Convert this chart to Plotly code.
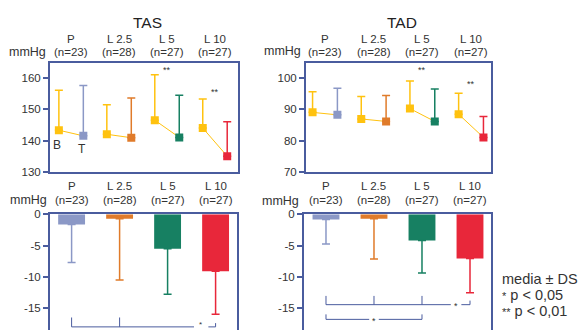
import plotly.graph_objects as go

W, H = 585, 336

# ---------------- data ----------------
categories = ["P", "L 2.5", "L 5", "L 10"]
n_labels = ["(n=23)", "(n=28)", "(n=27)", "(n=27)"]

tas_base_mean = [143.3, 142.0, 146.5, 144.0]
tas_base_sd = [12.8, 9.4, 14.5, 9.3]
tas_treat_mean = [141.5, 140.9, 141.0, 135.0]
tas_treat_sd = [16.1, 12.7, 13.5, 11.0]

tad_base_mean = [89.0, 86.9, 90.2, 88.4]
tad_base_sd = [6.6, 7.2, 8.8, 6.7]
tad_treat_mean = [88.2, 86.1, 86.1, 81.0]
tad_treat_sd = [8.5, 8.3, 10.4, 6.7]

tas_change_mean = [-1.65, -0.7, -5.5, -9.1]
tas_change_sd = [6.05, 9.8, 7.3, 6.9]
tad_change_mean = [-0.85, -0.7, -4.2, -7.05]
tad_change_sd = [3.9, 6.45, 5.2, 5.5]

top_sig = ["", "", "**", "**"]
tas_sig_y = [None, None, 162.4, 155.4]
tad_sig_y = [None, None, 102.4, 98.0]
y_ticks_tas = [130, 140, 150, 160]
y_ticks_tad = [70, 80, 90, 100]
y_ticks_change = [0, -5, -10, -15]

# ---------------- styles ----------------
YELLOW = "#FFC20F"
group_colors = ["#8B98C6", "#E07B2A", "#178062", "#E8273A"]
FRAME = "#4a5c9e"
TXT = "#333333"
FONT = "Liberation Sans, Arial, sans-serif"

def px_x(p):
    return p / W

def px_y(p):
    return 1 - p / H

fig = go.Figure()

OFF = 0.255

def top_panel(xa, ya, bmean, bsd, tmean, tsd):
    xs = list(range(len(categories)))
    lx, ly = [], []
    for i in xs:
        lx += [i - OFF, i + OFF, None]
        ly += [bmean[i], tmean[i], None]
    fig.add_trace(go.Scatter(x=lx, y=ly, mode="lines", line=dict(color=YELLOW, width=1),
                             xaxis=xa, yaxis=ya, hoverinfo="skip", showlegend=False))
    fig.add_trace(go.Scatter(
        x=[i - OFF for i in xs], y=bmean, mode="markers",
        marker=dict(symbol="square", size=8, color=YELLOW),
        error_y=dict(type="data", symmetric=False, array=bsd, arrayminus=[0] * 4,
                     color=YELLOW, thickness=1.5, width=4),
        xaxis=xa, yaxis=ya, showlegend=False))
    for i in xs:
        fig.add_trace(go.Scatter(
            x=[i + OFF], y=[tmean[i]], mode="markers",
            marker=dict(symbol="square", size=8, color=group_colors[i]),
            error_y=dict(type="data", symmetric=False, array=[tsd[i]], arrayminus=[0],
                         color=group_colors[i], thickness=1.5, width=4),
            xaxis=xa, yaxis=ya, showlegend=False))

def bottom_panel(xa, ya, mean, sd):
    for i in range(len(categories)):
        fig.add_trace(go.Bar(
            x=[i], y=[mean[i]], width=0.56,
            marker=dict(color=group_colors[i], line=dict(width=0)),
            error_y=dict(type="data", symmetric=False, array=[0], arrayminus=[sd[i]],
                         color=group_colors[i], thickness=1.5, width=4),
            xaxis=xa, yaxis=ya, showlegend=False))

top_panel("x", "y", tas_base_mean, tas_base_sd, tas_treat_mean, tas_treat_sd)
top_panel("x2", "y2", tad_base_mean, tad_base_sd, tad_treat_mean, tad_treat_sd)
bottom_panel("x3", "y3", tas_change_mean, tas_change_sd)
bottom_panel("x4", "y4", tad_change_mean, tad_change_sd)

def xax(dom, rng, anchor, mirror=True, side="bottom"):
    return dict(domain=[px_x(dom[0]), px_x(dom[1])], range=rng, showline=True,
                mirror=mirror, side=side, showticklabels=False, ticks="", anchor=anchor,
                showgrid=False, zeroline=False, linecolor=FRAME, linewidth=2, fixedrange=True)

def yax(dom, rng, ticks, anchor):
    return dict(domain=[px_y(dom[1]), px_y(dom[0])], range=rng, showline=True, mirror=True,
                showgrid=False, zeroline=False, linecolor=FRAME, linewidth=2,
                tickfont=dict(family=FONT, size=11.5, color=TXT),
                ticks="outside", ticklen=5, tickwidth=2, tickcolor=FRAME,
                tickvals=ticks, ticktext=[str(t) for t in ticks], anchor=anchor,
                fixedrange=True)

TAS_X = (50, 238)
TAD_X = (306, 491)
TOP_Y = (59, 172)
BOT_Y = (216, 336)
TASB_X = (50, 237)
TADB_X = (304, 491)

fig.update_layout(
    width=W, height=H, margin=dict(l=0, r=0, t=0, b=0),
    paper_bgcolor="white", plot_bgcolor="rgba(0,0,0,0)",
    font=dict(family=FONT, color=TXT), barmode="overlay",
    xaxis=xax(TAS_X, [-0.44, 3.48], "y"),
    yaxis=yax(TOP_Y, [130, 164.8], y_ticks_tas, "x"),
    xaxis2=xax(TAD_X, [-0.39, 3.41], "y2"),
    yaxis2=yax(TOP_Y, [70, 104.8], y_ticks_tad, "x2"),
    xaxis3=xax(TASB_X, [-0.45, 3.446], "y3", mirror=False, side="top"),
    yaxis3=yax(BOT_Y, [-18.5, 0], y_ticks_change, "x3"),
    xaxis4=xax(TADB_X, [-0.458, 3.4375], "y4", mirror=False, side="top"),
    yaxis4=yax(BOT_Y, [-18.5, 0], y_ticks_change, "x4"),
)

ann = []
def text(x, y, s, size=11.5, xref="paper", yref="paper", xanchor="center", color=TXT):
    ann.append(dict(x=x, y=y, text=s, xref=xref, yref=yref, showarrow=False,
                    xanchor=xanchor, yanchor="middle",
                    font=dict(family=FONT, size=size, color=color)))

# titles
text(px_x(147), px_y(17), "TAS", size=15.5, color="#222222")
text(px_x(402), px_y(17), "TAD", size=15.5, color="#222222")

# category headers
for xr, ytop in (("x", 34), ("x2", 34), ("x3", 187), ("x4", 187)):
    for i, c in enumerate(categories):
        text(i, px_y(ytop), c, xref=xr)
        text(i, px_y(ytop + 14), n_labels[i], xref=xr)

# unit labels
text(px_x(27), px_y(48), "mmHg", size=12.5)
text(px_x(282), px_y(47), "mmHg", size=12.5)
text(px_x(28), px_y(201), "mmHg", size=12.5)
text(px_x(280), px_y(202), "mmHg", size=12.5)

# B / T labels
text(-0.3, 138.6, "B", size=12, xref="x", yref="y")
text(0.22, 137.3, "T", size=12, xref="x", yref="y")

# significance stars on top panels
for i, s in enumerate(top_sig):
    if s:
        text(i, tas_sig_y[i], s, size=9, xref="x", yref="y")
        text(i, tad_sig_y[i], s, size=9, xref="x2", yref="y2")

# legend text
STAR = '<span style="font-size:11px">{}</span>'
text(px_x(500), px_y(283), "media ± DS", size=14.5, xanchor="left")
text(px_x(500), px_y(299.5), STAR.format("*") + " p < 0,05", size=14.5, xanchor="left")
text(px_x(500), px_y(316), STAR.format("**") + " p < 0,01", size=14.5, xanchor="left")

# brackets on bottom panels
shapes = []
def seg(xr, yr, x0, y0, x1, y1):
    shapes.append(dict(type="line", xref=xr, yref=yr, x0=x0, y0=y0, x1=x1, y1=y1,
                       line=dict(color=FRAME, width=1)))

# TAS: P, L2.5 vs L10
yb = -18.0
seg("x3", "y3", 0, yb, 2.55, yb)
seg("x3", "y3", 2.85, yb, 3, yb)
for xi in (0, 1):
    seg("x3", "y3", xi, yb, xi, -16.5)
seg("x3", "y3", 3, yb, 3, -17.4)
text(2.69, yb + 0.45, "*", size=8, xref="x3", yref="y3")

# TAD: P, L2.5, L5 vs L10
yb1 = -14.45
seg("x4", "y4", 0, yb1, 2.6, yb1)
seg("x4", "y4", 2.82, yb1, 3, yb1)
for xi in (0, 1, 2):
    seg("x4", "y4", xi, yb1, xi, -13.05)
seg("x4", "y4", 3, yb1, 3, -13.8)
text(2.7, yb1 - 0.25, "*", size=9, xref="x4", yref="y4")
# TAD: P vs L5
yb2 = -16.8
seg("x4", "y4", 0, yb2, 0.9, yb2)
seg("x4", "y4", 1.1, yb2, 2, yb2)
seg("x4", "y4", 0, yb2, 0, -16.0)
seg("x4", "y4", 2, yb2, 2, -16.0)
text(1.0, yb2 - 0.25, "*", size=9, xref="x4", yref="y4")

fig.update_layout(annotations=ann, shapes=shapes)
fig.write_html("out.html", config={"displayModeBar": False, "staticPlot": True},
               post_script="document.body.style.margin='0';document.body.style.overflow='hidden';")
